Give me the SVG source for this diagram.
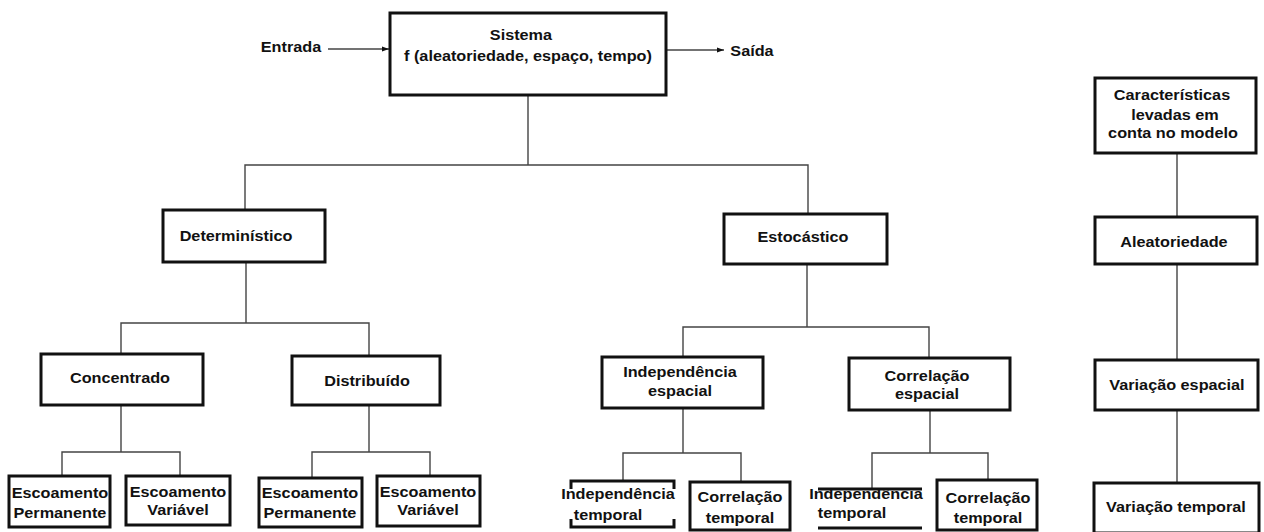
<svg xmlns="http://www.w3.org/2000/svg" width="1264" height="532" viewBox="0 0 1264 532">
<style>
.box{fill:#fff;stroke:#111;stroke-width:3}
.brk{fill:none;stroke:#111;stroke-width:3}
.ln{fill:none;stroke:#444;stroke-width:1.4}
text{font-family:"Liberation Sans",Arial,sans-serif;font-weight:bold;font-size:14.5px;fill:#111;text-anchor:middle;transform-box:fill-box;transform-origin:center;transform:scaleX(1.12)}
</style>
<defs>
<marker id="ah" markerWidth="8" markerHeight="8" refX="7" refY="4" orient="auto" markerUnits="userSpaceOnUse">
<path d="M0,1.5 L7,4 L0,6.5 Z" fill="#111"/>
</marker>
</defs>
<rect width="1264" height="532" fill="#fff"/>
<g id="connectors">
<line class="ln" x1="328" y1="49" x2="389" y2="49" marker-end="url(#ah)"/>
<line class="ln" x1="666" y1="50" x2="724" y2="50" marker-end="url(#ah)"/>
<path class="ln" d="M528,95 V165 M245,212 V165 H808 V214"/>
<path class="ln" d="M246,262 V323 M121,354 V323 H369 V356"/>
<path class="ln" d="M121,405 V452 M62,476 V452 H180 V476"/>
<path class="ln" d="M369,405 V452 M312,478 V452 H430 V476"/>
<path class="ln" d="M807,264 V327 M683,357 V327 H929 V358"/>
<path class="ln" d="M683,408 V453 M623,481 V453 H741 V482"/>
<path class="ln" d="M930,410 V453 M872,489 V453 H988 V480"/>
<path class="ln" d="M1177,153 V217 M1177,264 V360 M1177,410 V483"/>
</g>
<g id="entrada"><text x="291" y="52">Entrada</text></g>
<g id="saida"><text x="752" y="56">Saída</text></g>
<g id="sistema">
<rect class="box" x="390" y="13" width="276" height="82"/>
<text x="521" y="40">Sistema</text>
<text x="528" y="61">f (aleatoriedade, espaço, tempo)</text>
</g>
<g id="deterministico">
<rect class="box" x="163" y="210" width="162" height="52"/>
<text x="236" y="241">Determinístico</text>
</g>
<g id="estocastico">
<rect class="box" x="724" y="214" width="163" height="50"/>
<text x="803" y="242">Estocástico</text>
</g>
<g id="concentrado">
<rect class="box" x="41" y="354" width="162" height="51"/>
<text x="120" y="383">Concentrado</text>
</g>
<g id="distribuido">
<rect class="box" x="292" y="356" width="148" height="49"/>
<text x="367" y="386">Distribuído</text>
</g>
<g id="esc-perm-1">
<rect class="box" x="9" y="476" width="101" height="51"/>
<text x="60" y="498">Escoamento</text>
<text x="60" y="518">Permanente</text>
</g>
<g id="esc-var-1">
<rect class="box" x="126" y="476" width="104" height="49"/>
<text x="178" y="497">Escoamento</text>
<text x="178" y="515">Variável</text>
</g>
<g id="esc-perm-2">
<rect class="box" x="259" y="478" width="103" height="49"/>
<text x="310" y="498">Escoamento</text>
<text x="310" y="518">Permanente</text>
</g>
<g id="esc-var-2">
<rect class="box" x="377" y="476" width="103" height="50"/>
<text x="428" y="497">Escoamento</text>
<text x="428" y="515">Variável</text>
</g>
<g id="indep-espacial">
<rect class="box" x="602" y="357" width="161" height="51"/>
<text x="680" y="377">Independência</text>
<text x="680" y="396">espacial</text>
</g>
<g id="corr-espacial">
<rect class="box" x="849" y="358" width="161" height="52"/>
<text x="927" y="381">Correlação</text>
<text x="927" y="399">espacial</text>
</g>
<g id="indep-temporal-1">
<path class="brk" d="M571,489 V481 H674 V489 M571,519 V527 H674 V519"/>
<text x="618" y="499">Independência</text>
<text x="608" y="520">temporal</text>
</g>
<g id="corr-temporal-1">
<rect class="box" x="690" y="482" width="100" height="48"/>
<text x="740" y="502">Correlação</text>
<text x="740" y="523">temporal</text>
</g>
<g id="indep-temporal-2">
<path class="brk" d="M818,489 H922 M818,528 H922"/>
<text x="866" y="499">Independência</text>
<text x="852" y="518">temporal</text>
</g>
<g id="corr-temporal-2">
<rect class="box" x="937" y="480" width="100" height="50"/>
<text x="988" y="503">Correlação</text>
<text x="988" y="523">temporal</text>
</g>
<g id="caracteristicas">
<rect class="box" x="1095" y="78" width="161" height="75"/>
<text x="1172" y="100">Características</text>
<text x="1175" y="120">levadas em</text>
<text x="1173" y="138">conta no modelo</text>
</g>
<g id="aleatoriedade">
<rect class="box" x="1095" y="217" width="162" height="47"/>
<text x="1174" y="247">Aleatoriedade</text>
</g>
<g id="variacao-espacial">
<rect class="box" x="1095" y="360" width="163" height="50"/>
<text x="1177" y="390">Variação espacial</text>
</g>
<g id="variacao-temporal">
<rect class="box" x="1094" y="483" width="165" height="50"/>
<text x="1176" y="512">Variação temporal</text>
</g>
</svg>
